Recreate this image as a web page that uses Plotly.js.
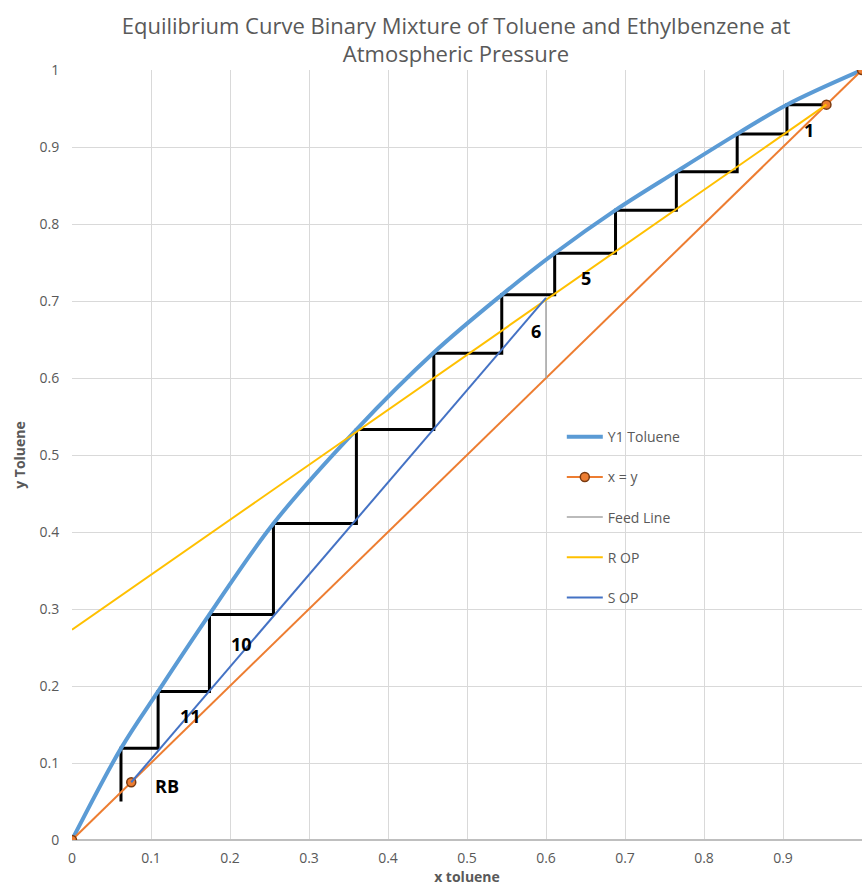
<!DOCTYPE html>
<html>
<head>
<meta charset="utf-8">
<script src="https://cdn.plot.ly/plotly-3.0.1.min.js"></script>
<style>html,body{margin:0;padding:0;background:#fff;}#chart{width:862px;height:886px;}</style>
</head>
<body>
<div id="chart"></div>
<script>
// Equilibrium curve (Y1 Toluene)
const eqX = [0, 0.062, 0.109, 0.174, 0.255, 0.360, 0.458, 0.544, 0.611, 0.688, 0.765, 0.842, 0.905, 1];
const eqY = [0, 0.119, 0.193, 0.293, 0.411, 0.533, 0.633, 0.708, 0.762, 0.818, 0.868, 0.917, 0.955, 1];
// x = y line
const diagX = [0, 0.075, 0.955, 1];
const diagY = [0, 0.075, 0.955, 1];
// Feed line
const feedX = [0.6, 0.6];
const feedY = [0.6, 0.704];
// Rectifying operating line
const ropX = [0, 0.955];
const ropY = [0.273, 0.955];
// Stripping operating line
const sopX = [0.075, 0.6];
const sopY = [0.075, 0.704];
// Stage stepping
const stepX = [0.955, 0.905, 0.905, 0.842, 0.842, 0.765, 0.765, 0.688, 0.688, 0.611, 0.611, 0.544, 0.544, 0.458, 0.458, 0.360, 0.360, 0.255, 0.255, 0.174, 0.174, 0.109, 0.109, 0.062, 0.062];
const stepY = [0.955, 0.955, 0.917, 0.917, 0.868, 0.868, 0.818, 0.818, 0.762, 0.762, 0.708, 0.708, 0.632, 0.632, 0.533, 0.533, 0.411, 0.411, 0.293, 0.293, 0.193, 0.193, 0.119, 0.119, 0.05];
// Stage labels
const labelText = ['1', '5', '6', '10', '11', 'RB'];
const labelX = [0.933, 0.650, 0.587, 0.215, 0.150, 0.120];
const labelY = [0.922, 0.730, 0.661, 0.255, 0.161, 0.070];

const gray = '#595959';
const traces = [
  {x: stepX, y: stepY, mode: 'lines', line: {color: '#000000', width: 3}, showlegend: false, hoverinfo: 'skip'},
  {x: eqX, y: eqY, mode: 'lines', name: 'Y1 Toluene', line: {color: '#5B9BD5', width: 4, shape: 'spline'}, legendgroup: 'a', legendrank: 1},
  {x: diagX, y: diagY, mode: 'lines+markers', name: 'x = y', line: {color: '#ED7D31', width: 2},
   marker: {color: '#ED7D31', size: 9, line: {color: '#7a3a10', width: 1.5}}, legendgroup: 'b', legendrank: 2},
  {x: feedX, y: feedY, mode: 'lines', name: 'Feed Line', line: {color: '#A5A5A5', width: 1.5}, legendgroup: 'c', legendrank: 3},
  {x: ropX, y: ropY, mode: 'lines', name: 'R OP', line: {color: '#FFC000', width: 2}, legendgroup: 'd', legendrank: 4},
  {x: sopX, y: sopY, mode: 'lines', name: 'S OP', line: {color: '#4472C4', width: 2}, legendgroup: 'e', legendrank: 5}
];

const annotations = labelText.map((t, i) => ({
  x: labelX[i], y: labelY[i], xref: 'x', yref: 'y', text: '<b>' + t + '</b>', showarrow: false,
  font: {family: 'Open Sans, sans-serif', size: 18, color: '#000000'}
}));

const layout = {
  width: 862, height: 886,
  margin: {l: 72, r: 0, t: 70, b: 46},
  paper_bgcolor: '#ffffff', plot_bgcolor: '#ffffff',
  font: {family: 'Open Sans, sans-serif', color: gray, size: 14},
  title: {text: 'Equilibrium Curve Binary Mixture of Toluene and Ethylbenzene at<br>Atmospheric Pressure',
    font: {family: 'Open Sans, sans-serif', size: 22, color: gray}, x: 0.529, xanchor: 'center', y: 0.962, yanchor: 'top'},
  xaxis: {range: [0, 1], dtick: 0.1, tick0: 0, showgrid: true, gridcolor: '#d9d9d9', gridwidth: 1,
    zeroline: false, showline: false, ticks: 'outside', ticklen: 5, tickcolor: 'rgba(0,0,0,0)',
    tickfont: {size: 14, color: gray}, automargin: false,
    title: {text: '<b>x toluene</b>', font: {size: 14, color: gray}, standoff: 8}, fixedrange: true},
  yaxis: {range: [0, 1], dtick: 0.1, tick0: 0, showgrid: true, gridcolor: '#d9d9d9', gridwidth: 1,
    zeroline: true, zerolinecolor: '#bfbfbf', zerolinewidth: 1.5, showline: false, ticks: 'outside', ticklen: 9, tickcolor: 'rgba(0,0,0,0)',
    tickfont: {size: 14, color: gray}, automargin: false,
    title: {text: '<b>y Toluene</b>', font: {size: 14, color: gray}, standoff: 10}, fixedrange: true},
  legend: {x: 0.62, y: 0.544, xanchor: 'left', yanchor: 'top', bgcolor: 'rgba(0,0,0,0)',
    font: {size: 14, color: gray}, tracegroupgap: 19, traceorder: 'grouped', itemwidth: 36},
  annotations: annotations,
  showlegend: true
};

Plotly.newPlot('chart', traces, layout, {displayModeBar: false, staticPlot: true});
</script>
</body>
</html>
